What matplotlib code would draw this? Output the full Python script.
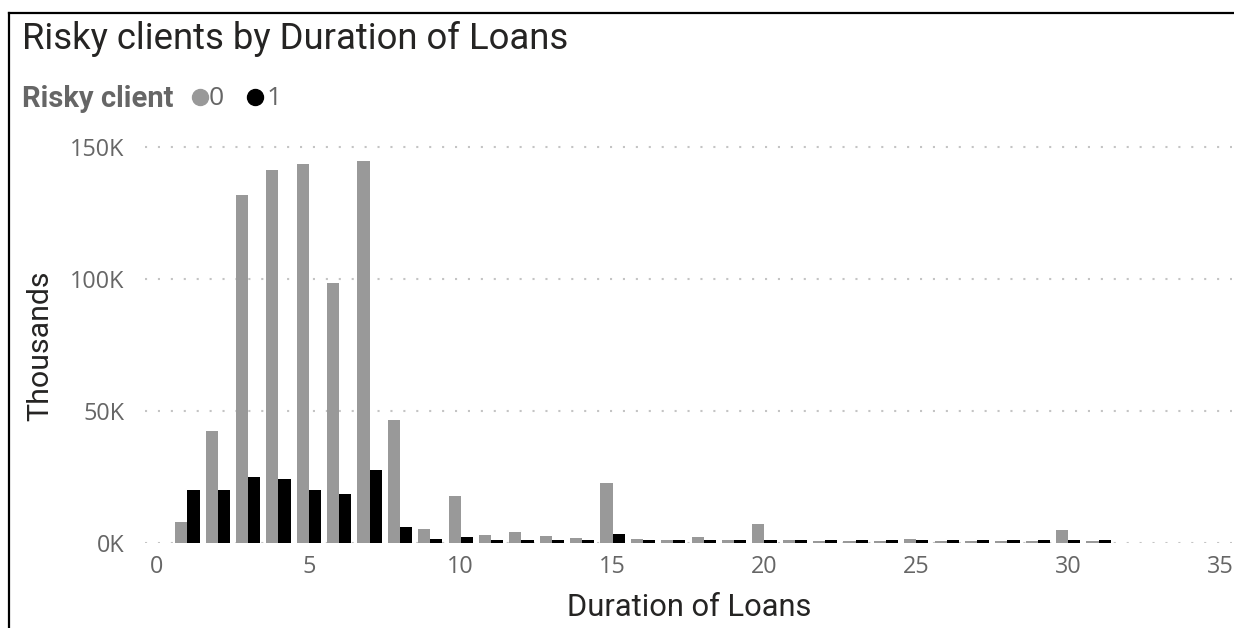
import matplotlib
matplotlib.use("Agg")
import matplotlib.pyplot as plt
from matplotlib.lines import Line2D
from matplotlib.ticker import FuncFormatter

# Loan duration categories and client counts per risk class
durations = list(range(1, 32))
not_risky = [7700, 42300, 131800, 141200, 143400, 98200, 144400, 46400, 5000, 17600,
             2900, 3900, 2400, 1800, 22400, 1500, 900, 2000, 900, 7000,
             800, 600, 600, 600, 1300, 600, 600, 600, 600, 4600, 600]
risky = [20000, 19700, 24800, 24200, 20000, 18400, 27500, 5900, 1500, 1900,
         1000, 1000, 800, 800, 3400, 800, 800, 800, 800, 800,
         800, 900, 900, 900, 900, 900, 900, 900, 900, 900, 900]
x_ticks = [0, 5, 10, 15, 20, 25, 30, 35]
y_ticks = [0, 50000, 100000, 150000]

W, H = 1234, 628
fig = plt.figure(figsize=(W / 100, H / 100), dpi=100)
fig.patch.set_facecolor("white")

def fx(px):
    return px / W

def fy(py):
    return 1 - py / H

ax_left, ax_right, ax_bottom, ax_top = 145, 1232, 542.5, 140
ax = fig.add_axes([fx(ax_left), fy(ax_bottom), fx(ax_right - ax_left), (ax_bottom - ax_top) / H])

bar_w = 0.4
gray = "#999999"
ax.bar([d - bar_w / 2 for d in durations], not_risky, width=bar_w, color=gray, zorder=3)
ax.bar([d + bar_w / 2 for d in durations], risky, width=bar_w, color="#000000", zorder=3)

x0_px, x35_px = 157, 1220
px_per_unit = (x35_px - x0_px) / 35
ax.set_xlim(-(x0_px - ax_left) / px_per_unit, 35 + (ax_right - x35_px) / px_per_unit)
px_per_val = (ax_bottom - 146.5) / 150000
ax.set_ylim(0, (ax_bottom - ax_top) / px_per_val)

ax.set_xticks(x_ticks)
ax.set_yticks(y_ticks)
ax.yaxis.set_major_formatter(FuncFormatter(lambda v, p: f"{v / 1000:.0f}K"))
ax.grid(axis="y", color="#c4c4c4", linestyle=(0, (1, 5.2)), linewidth=1.5, zorder=0)
ax.grid(axis="x", visible=False)
for s in ax.spines.values():
    s.set_visible(False)
ax.tick_params(length=0, labelcolor="#666666")
ax.tick_params(axis="y", pad=15)
ax.tick_params(axis="x", pad=9)
for lab in ax.get_xticklabels() + ax.get_yticklabels():
    lab.set_fontfamily("Open Sans")
    lab.set_fontsize(16.8)

# Frame lines along the left and top edges
fig.add_artist(Line2D([fx(8.5), fx(8.5)], [0, fy(12.5)], color="black", linewidth=1.6,
                      transform=fig.transFigure))
fig.add_artist(Line2D([fx(8.5), 1], [fy(12.5), fy(12.5)], color="black", linewidth=1.6,
                      transform=fig.transFigure))

# Title
fig.text(fx(22), fy(39), "Risky clients by Duration of Loans", fontsize=26.3,
         family="Roboto", color="#252423", ha="left", va="center")

# Legend
fig.text(fx(22), fy(99), "Risky client", fontsize=21, family="Roboto",
         fontweight="bold", color="#666666", ha="left", va="center")
fig.add_artist(Line2D([fx(200)], [fy(97)], marker="o", markersize=11.5, color=gray,
                      linestyle="none", transform=fig.transFigure))
fig.text(fx(209), fy(98.5), "0", fontsize=19, family="Open Sans",
         color="#666666", ha="left", va="center")
fig.add_artist(Line2D([fx(255)], [fy(97)], marker="o", markersize=11.5, color="black",
                      linestyle="none", transform=fig.transFigure))
fig.text(fx(267), fy(98.5), "1", fontsize=19, family="Open Sans",
         color="#666666", ha="left", va="center")

# Axis titles
fig.text(fx(40), fy(346), "Thousands", fontsize=21.9, family="Roboto", color="#252423",
         rotation=90, ha="center", va="center")
fig.text(fx(689), fy(607), "Duration of Loans", fontsize=22.2, family="Roboto",
         color="#252423", ha="center", va="center")

fig.savefig("out.png", dpi=100, facecolor="white")
